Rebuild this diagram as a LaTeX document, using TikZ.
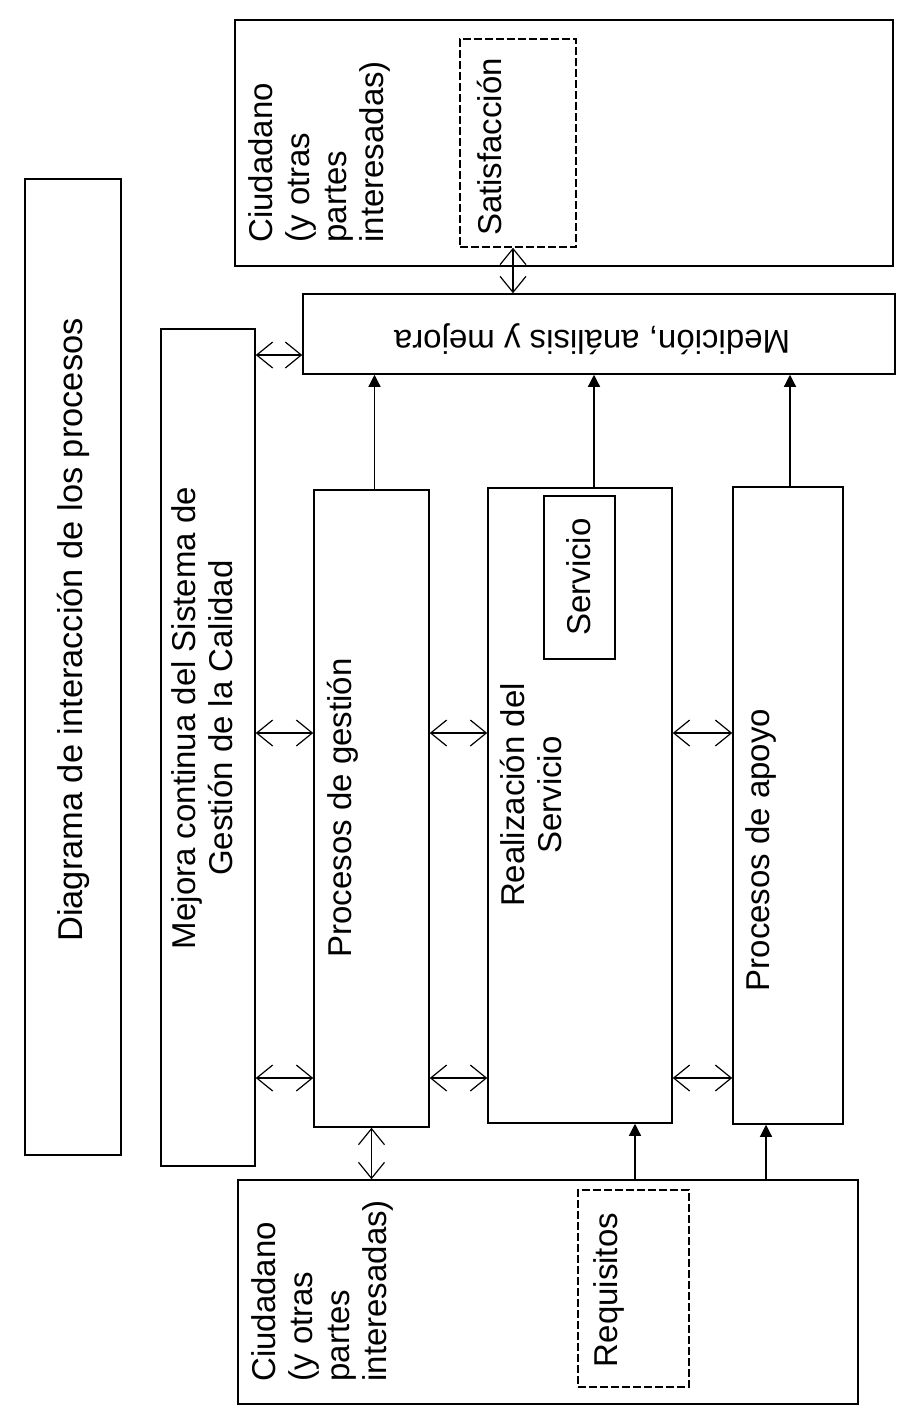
\documentclass[tikz,border=0pt]{standalone}
\usepackage{fontspec}
\setmainfont{Liberation Sans}
\usetikzlibrary{arrows.meta,fit,calc}
\begin{document}
\begin{tikzpicture}[x=0.5pt,y=-0.5pt,
  box/.style={draw,line width=0.75pt,inner sep=0pt},
  dbox/.style={draw,line width=0.75pt,inner sep=0pt,dash pattern=on 4pt off 1.5pt},
  txt/.style={font=\fontsize{16.5}{18.5}\selectfont,inner sep=0pt},
  darrow/.style={line width=0.6pt,{Straight Barb[length=8pt,width=13pt]}-{Straight Barb[length=8pt,width=13pt]}},
  sarrow/.style={line width=0.6pt,-{Triangle[length=6pt,width=6pt]}}]
\fill[white] (0,0) rectangle (912,1414);
\useasboundingbox (0,0) rectangle (912,1414);

% boxes
\node[box, fit={(25,179) (121,1155)}] (title) {};
\node[box, fit={(161,329) (255,1166)}] (mejora) {};
\node[box, fit={(235,20) (893,266)}] (ciudT) {};
\node[dbox, fit={(460,39) (576,247)}] (satis) {};
\node[box, fit={(303,294) (895,374)}] (med) {};
\node[box, fit={(314,490) (429,1127)}] (gest) {};
\node[box, fit={(488,488) (672,1123)}] (real) {};
\node[box, fit={(544,496) (615,659)}] (serv) {};
\node[box, fit={(733,487) (843,1124)}] (apoyo) {};
\node[box, fit={(238,1180) (858,1404)}] (ciudB) {};
\node[dbox, fit={(578,1190) (689,1387)}] (req) {};

% texts
\node[txt, rotate=90] (tTitle) at (73,630) {\fontsize{17.2}{19}\selectfont Diagrama de interacción de los procesos};
\node[txt, rotate=90, align=center] (tMejora) at (202,718) {Mejora continua del Sistema de\\Gestión de la Calidad};
\node[txt, rotate=90, align=left, anchor=west] (tCiudT) at (319,243) {Ciudadano\\(y otras\\partes\\interesadas)};
\node[txt, rotate=90] (tSatis) at (490,147) {Satisfacción};
\node[txt, rotate=180] (tMed) at (592,339) {Medición, análisis y mejora};
\node[txt, rotate=90] (tGest) at (343,808) {Procesos de gestión};
\node[txt, rotate=90, align=center] (tReal) at (531,795) {Realización del\\Servicio};
\node[txt, rotate=90] (tServ) at (579,577) {Servicio};
\node[txt, rotate=90] (tApoyo) at (761,850) {Procesos de apoyo};
\node[txt, rotate=90, align=left, anchor=west] (tCiudB) at (322,1382) {Ciudadano\\(y otras\\partes\\interesadas)};
\node[txt, rotate=90] (tReq) at (609,1290) {Requisitos};

% single arrows to Medición
\coordinate (g1) at ($(gest.north)+(3,0)$);
\coordinate (r1) at ($(real.north)+(14,0)$);
\coordinate (a1) at ($(apoyo.north)+(2,0)$);
\draw[sarrow] (g1) -- (g1 |- med.south);
\draw[sarrow] (r1) -- (r1 |- med.south);
\draw[sarrow] (a1) -- (a1 |- med.south);

% single arrows from Ciudadano (bottom)
\coordinate (b1) at ($(real.south)+(55,0)$);
\coordinate (b2) at ($(apoyo.south)+(-22,0)$);
\draw[sarrow] (b1 |- ciudB.north) -- (b1);
\draw[sarrow] (b2 |- ciudB.north) -- (b2);

% vertical double arrows
\coordinate (s1) at ($(satis.south)+(-5,0)$);
\draw[darrow] (s1) -- (s1 |- med.north);
\draw[darrow] (gest.south) -- (gest.south |- ciudB.north);

% horizontal double arrows
\coordinate (rM) at (0,355);
\coordinate (rA) at (0,733);
\coordinate (rB) at (0,1078);
\draw[darrow] (rM -| mejora.east) -- (rM -| med.west);
\draw[darrow] (rA -| mejora.east) -- (rA -| gest.west);
\draw[darrow] (rA -| gest.east) -- (rA -| real.west);
\draw[darrow] (rA -| real.east) -- (rA -| apoyo.west);
\draw[darrow] (rB -| mejora.east) -- (rB -| gest.west);
\draw[darrow] (rB -| gest.east) -- (rB -| real.west);
\draw[darrow] (rB -| real.east) -- (rB -| apoyo.west);
\end{tikzpicture}
\end{document}
